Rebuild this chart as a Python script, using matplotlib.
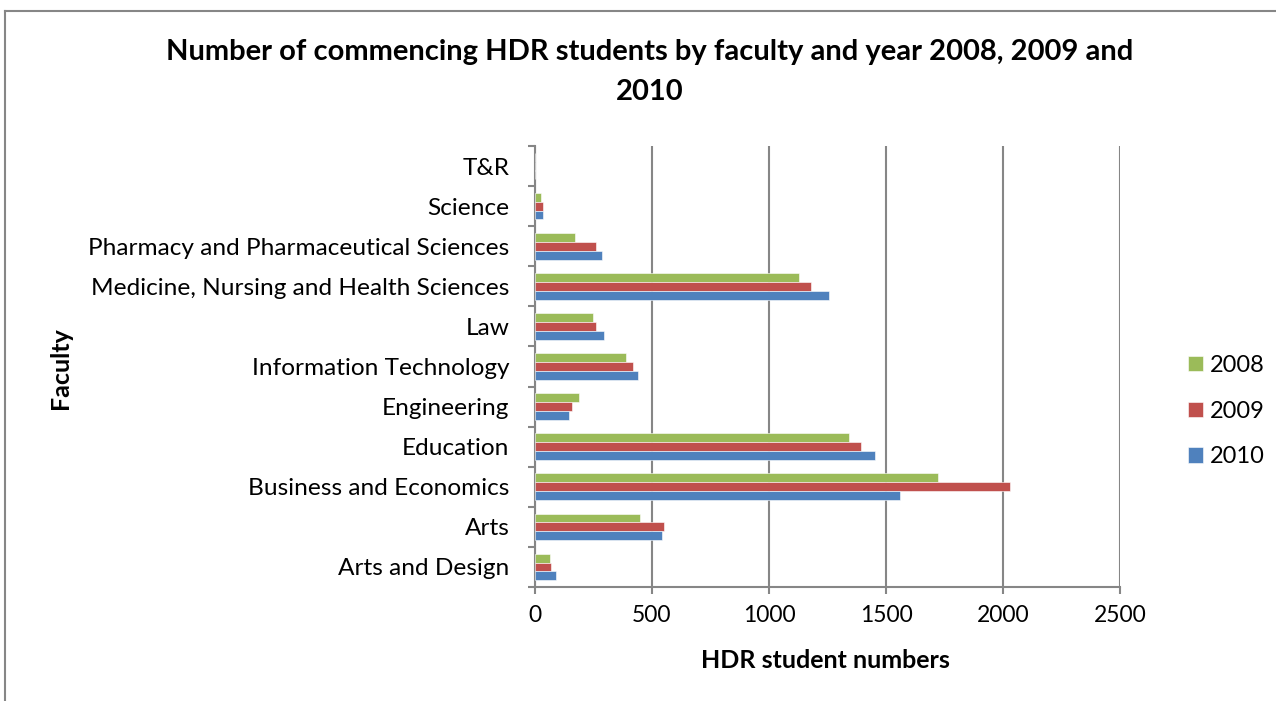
import numpy as np
import matplotlib
matplotlib.use("Agg")
import matplotlib.pyplot as plt
from matplotlib.lines import Line2D

plt.rcParams["font.family"] = ["Lato", "DejaVu Sans"]

# Categories listed bottom to top, as they appear on the axis.
faculties = [
    "Arts and Design",
    "Arts",
    "Business and Economics",
    "Education",
    "Engineering",
    "Information Technology",
    "Law",
    "Medicine, Nursing and Health Sciences",
    "Pharmacy and Pharmaceutical Sciences",
    "Science",
    "T&R",
]
years = ["2008", "2009", "2010"]
students_2008 = [62, 447, 1724, 1343, 186, 390, 249, 1129, 170, 24, 0]
students_2009 = [68, 553, 2031, 1395, 160, 420, 260, 1179, 260, 33, 0]
students_2010 = [88, 544, 1558, 1455, 146, 439, 294, 1258, 287, 33, 0]
x_ticks = [0, 500, 1000, 1500, 2000, 2500]

colors = ["#9BBB59", "#C0504D", "#4F81BD"]
grey = "#868686"

W, H = 1276, 701
fig = plt.figure(figsize=(W / 100, H / 100), dpi=100)
ax = fig.add_axes([535 / W, 1 - 587 / H, 585 / W, 441 / H])

# Excel-style clustered bars: gap width 50% -> group spans 2/3 of the slot.
bar_h = 1 / 4.5
pos = np.arange(len(faculties))
series = [students_2008, students_2009, students_2010]
for i, (vals, year, color) in enumerate(zip(series, years, colors)):
    ax.barh(pos + (1 - i) * bar_h, vals, height=bar_h, color=color,
            edgecolor="white", linewidth=0.4, label=year, zorder=3)

ax.set_xlim(0, 2500)
ax.set_ylim(-0.5, len(faculties) - 0.5)
ax.set_xticks(x_ticks)
ax.set_xticklabels([str(t) for t in x_ticks])
ax.xaxis.grid(True, color=grey, linewidth=1.5, zorder=0)

# Tick marks sit on category boundaries, labels at category centres.
ax.set_yticks(np.arange(len(faculties) + 1) - 0.5)
ax.set_yticklabels([])
ax.set_yticks(pos, minor=True)
ax.set_yticklabels(faculties, minor=True)
ax.tick_params(axis="y", which="minor", length=0, pad=18.5, labelsize=17.6)
ax.tick_params(axis="y", which="major", length=5, width=1.5, color=grey)
ax.tick_params(axis="x", length=5, width=1.5, color=grey, pad=8, labelsize=16.5)

for side in ["top", "right"]:
    ax.spines[side].set_visible(False)
for side in ["left", "bottom"]:
    ax.spines[side].set_color(grey)
    ax.spines[side].set_linewidth(1.5)

fig.text(61 / W, 1 - 368 / H, "Faculty", rotation=90, ha="center", va="center",
         fontsize=18, fontweight="bold")
fig.text(825 / W, 1 - 661 / H, "HDR student numbers", ha="center", va="center",
         fontsize=18, fontweight="bold")

fig.text(650 / W, 1 - 52 / H,
         "Number of commencing HDR students by faculty and year 2008, 2009 and",
         ha="center", va="center", fontsize=21, fontweight="bold")
fig.text(650 / W, 1 - 92 / H, "2010", ha="center", va="center",
         fontsize=21, fontweight="bold")

fig.legend(loc="center left", bbox_to_anchor=(1167 / W, 1 - 411 / H),
           frameon=False, fontsize=17, handlelength=0.62, handleheight=0.62,
           handletextpad=0.3, labelspacing=1.05)

# Chart area border (clipped by the image on the right and bottom).
fig.add_artist(Line2D([5 / W, 1], [1 - 11 / H, 1 - 11 / H], color=grey, linewidth=1.5))
fig.add_artist(Line2D([5 / W, 5 / W], [0, 1 - 11 / H], color=grey, linewidth=1.5))

fig.savefig("out.png", dpi=100)
